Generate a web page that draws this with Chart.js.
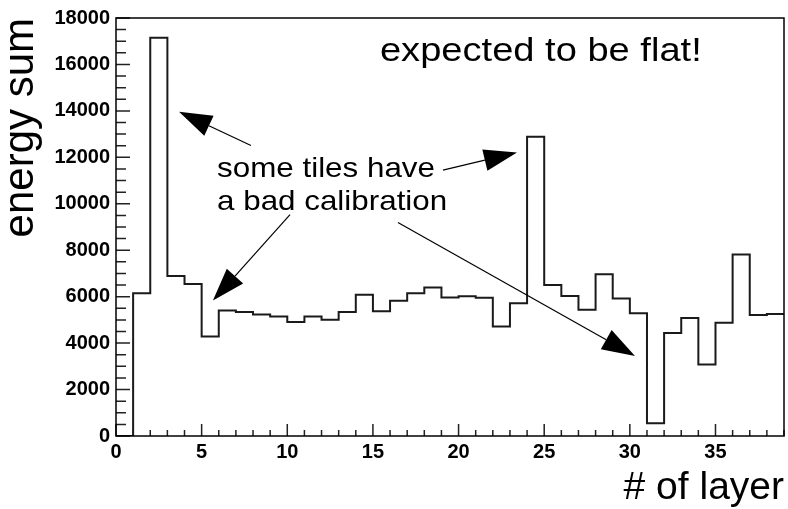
<!DOCTYPE html>
<html>
<head>
<meta charset="utf-8">
<script src="https://cdn.jsdelivr.net/npm/chart.js@4/dist/chart.umd.min.js"></script>
<style>
body { margin: 0; background: #fff; }
#wrap { width: 788px; height: 509px; }
</style>
</head>
<body>
<div id="wrap"><canvas id="myChart"></canvas></div>
<script>
// energy sum per layer, one bin per layer (layer 0 .. 38)
var layers = [];
for (var i = 0; i < 39; i++) layers.push(i);
var energySum = [0, 6150, 17150, 6890, 6550, 4290, 5400, 5340, 5230, 5150,
	4910, 5150, 5010, 5340, 6080, 5370, 5820, 6150, 6400, 5960,
	6020, 5950, 4710, 5720, 12890, 6500, 6030, 5440, 6960, 5920,
	5290, 550, 4440, 5080, 3080, 4880, 7820, 5210, 5250];
var xTicks = [0, 5, 10, 15, 20, 25, 30, 35];
var yTicks = [0, 2000, 4000, 6000, 8000, 10000, 12000, 14000, 16000, 18000];

// text and arrows, in data units
var notes = [
	{ text: 'expected to be flat!', x: 15.41, y: 16150, size: 34 },
	{ text: 'some tiles have', x: 5.9, y: 11150, size: 28 },
	{ text: 'a bad calibration', x: 5.9, y: 9740, size: 28 }
];
var arrows = [
	{ from: [7.88, 12510], to: [3.68, 13960] },
	{ from: [19.09, 11450], to: [23.41, 12210] },
	{ from: [10.16, 9530], to: [5.66, 5830] },
	{ from: [16.46, 9190], to: [30.30, 3450] }
];

// histogram outline: left edge of every bin + right edge of the last one
function histPoints() {
	var pts = layers.map(function (l, i) { return { x: l, y: energySum[i] }; });
	pts.push({ x: layers[layers.length - 1] + 1, y: energySum[energySum.length - 1] });
	return pts;
}

var frame = {
	id: 'frame',
	afterDraw: function (chart) {
		var ctx = chart.ctx, a = chart.chartArea;
		var xs = chart.scales.x, ys = chart.scales.y;
		ctx.save();
		// ticks inside the frame
		ctx.strokeStyle = '#222';
		ctx.lineWidth = 1.5;
		ctx.beginPath();
		for (var v = 0; v <= 39; v++) {
			var px = xs.getPixelForValue(v);
			var len = v % 5 === 0 ? 12 : 6;
			ctx.moveTo(px, a.bottom);
			ctx.lineTo(px, a.bottom - len);
		}
		for (var w = 0; w <= 18000; w += 500) {
			var py = ys.getPixelForValue(w);
			var l2 = w % 2000 === 0 ? 14 : 10;
			ctx.moveTo(a.left, py);
			ctx.lineTo(a.left + l2, py);
		}
		ctx.stroke();
		ctx.strokeStyle = '#000';
		ctx.lineWidth = 1.5;
		ctx.strokeRect(a.left, a.top, a.right - a.left, a.bottom - a.top);

		// annotations
		ctx.fillStyle = '#000';
		notes.forEach(function (n) {
			ctx.save();
			ctx.translate(xs.getPixelForValue(n.x), ys.getPixelForValue(n.y));
			ctx.scale(1.12, 1);
			ctx.font = n.size + 'px "Liberation Sans", Arial, sans-serif';
			ctx.textBaseline = 'alphabetic';
			ctx.fillText(n.text, 0, 0);
			ctx.restore();
		});
		ctx.lineWidth = 1.2;
		arrows.forEach(function (ar) {
			var x0 = xs.getPixelForValue(ar.from[0]), y0 = ys.getPixelForValue(ar.from[1]);
			var x1 = xs.getPixelForValue(ar.to[0]), y1 = ys.getPixelForValue(ar.to[1]);
			var ang = Math.atan2(y1 - y0, x1 - x0);
			var hl = 33, hw = 11;
			var bx = x1 - hl * Math.cos(ang), by = y1 - hl * Math.sin(ang);
			ctx.beginPath();
			ctx.moveTo(x0, y0);
			ctx.lineTo(bx, by);
			ctx.stroke();
			ctx.beginPath();
			ctx.moveTo(x1, y1);
			ctx.lineTo(bx + hw * Math.sin(ang), by - hw * Math.cos(ang));
			ctx.lineTo(bx - hw * Math.sin(ang), by + hw * Math.cos(ang));
			ctx.closePath();
			ctx.fill();
		});
		ctx.restore();
	}
};

var tickFont = { family: '"Liberation Sans", Arial, sans-serif', size: 20, weight: 'bold' };
var titleFont = { family: '"Liberation Sans", Arial, sans-serif', lineHeight: 1 };
var plain = function (v) { return String(v); };

var ctx = document.getElementById('myChart').getContext('2d');
var chart = new Chart(ctx, {
	type: 'line',
	data: {
		datasets: [{
			label: 'energy sum',
			data: histPoints(),
			stepped: true,
			borderColor: '#1a1a1a',
			borderWidth: 2,
			pointRadius: 0,
			fill: false
		}]
	},
	options: {
		responsive: true,
		maintainAspectRatio: false,
		animation: false,
		layout: { padding: { top: 13, right: 4, left: 0, bottom: 0 } },
		plugins: { legend: { display: false }, tooltip: { enabled: false } },
		scales: {
			x: {
				type: 'linear',
				min: 0,
				max: 39,
				grid: { display: false, drawTicks: false },
				border: { display: false },
				afterBuildTicks: function (s) { s.ticks = xTicks.map(function (v) { return { value: v }; }); },
				afterFit: function (s) { s.height = 73; },
				ticks: { font: tickFont, color: '#000', padding: 4, maxRotation: 0, autoSkip: false, callback: plain },
				title: {
					display: true, text: '# of layer', align: 'end', color: '#000',
					font: Object.assign({ size: 39 }, titleFont), padding: { top: 0, bottom: 1 }
				}
			},
			y: {
				min: 0,
				max: 18000,
				grid: { display: false, drawTicks: false },
				border: { display: false },
				afterBuildTicks: function (s) { s.ticks = yTicks.map(function (v) { return { value: v }; }); },
				afterFit: function (s) { s.width = 116; },
				ticks: { font: tickFont, color: '#000', padding: 6, autoSkip: false, callback: plain },
				title: {
					display: true, text: 'energy sum', align: 'end', color: '#000',
					font: Object.assign({ size: 42 }, titleFont), padding: 0
				}
			}
		}
	},
	plugins: [frame]
});
</script>
</body>
</html>
